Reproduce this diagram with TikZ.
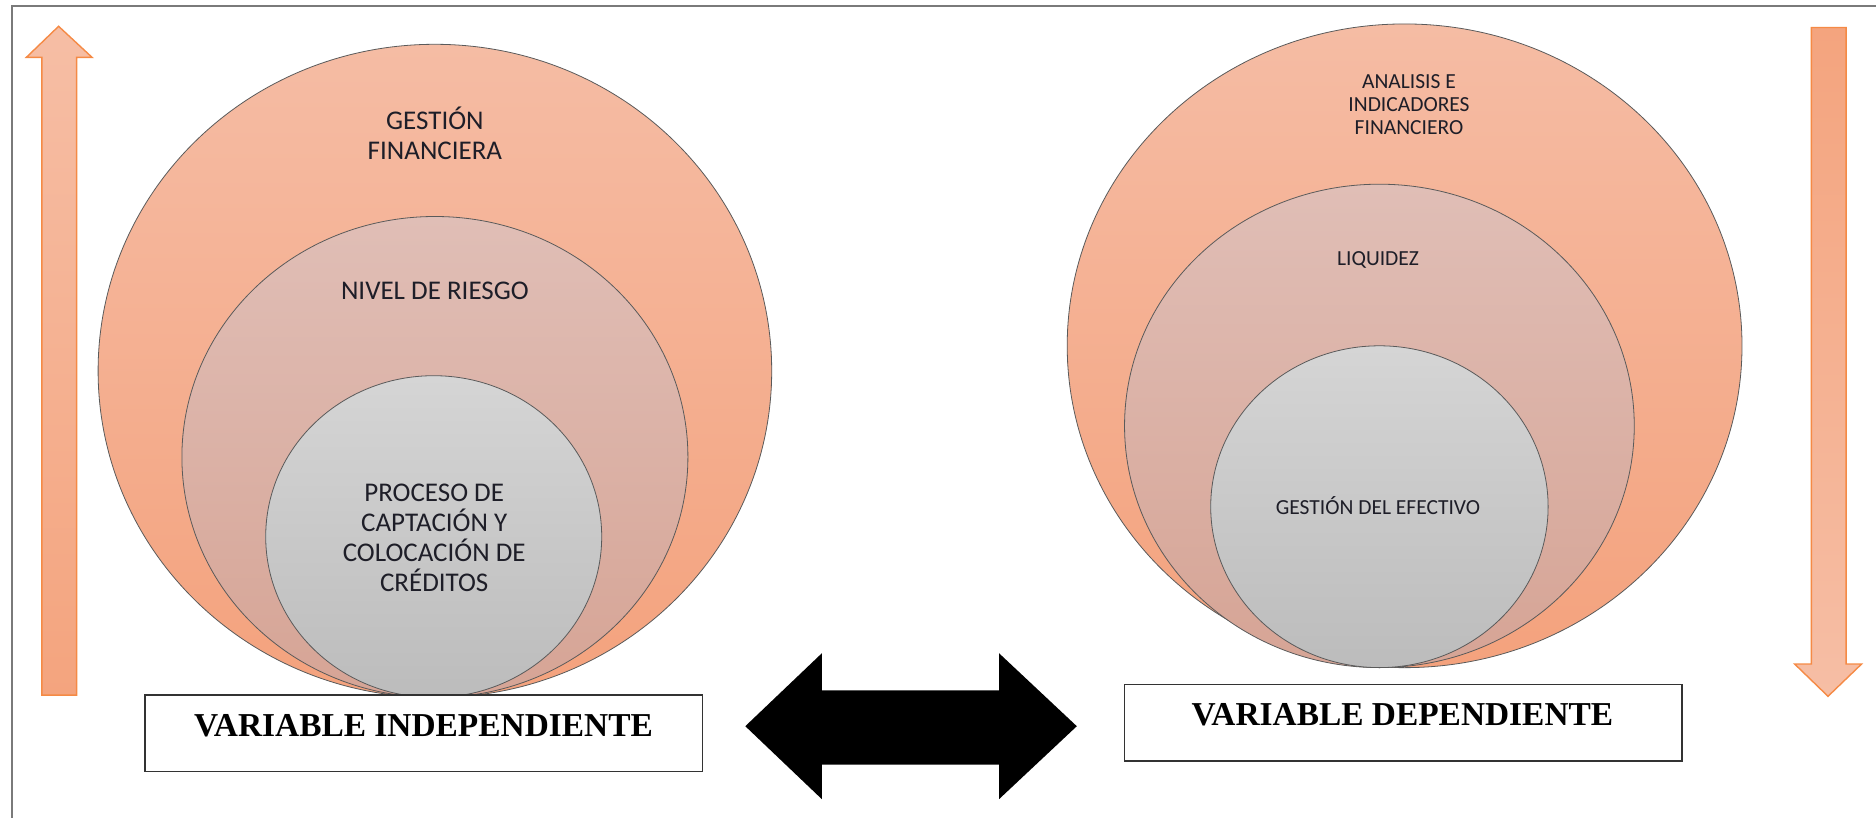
\documentclass[tikz,border=0pt]{standalone}
\usepackage{fontspec}
\setmainfont{Carlito}
\newfontfamily\tnr{Liberation Serif}
\usetikzlibrary{shapes.geometric}
\definecolor{salmonT}{HTML}{F5BCA4}
\definecolor{salmonB}{HTML}{F4A27D}
\definecolor{roseT}{HTML}{E0BEB6}
\definecolor{roseB}{HTML}{D6A495}
\definecolor{greyT}{HTML}{D5D5D5}
\definecolor{greyB}{HTML}{BCBCBC}
\definecolor{arrowLight}{HTML}{F6BEA5}
\definecolor{arrowDark}{HTML}{F4A47E}
\definecolor{arrowEdge}{HTML}{F58A45}
\definecolor{edgeGrey}{HTML}{5A5A5A}
\definecolor{frameGrey}{HTML}{7A7A7A}
\definecolor{txt}{HTML}{1E1E28}
\tikzset{
  disc/.style={ellipse, inner sep=0pt, draw=edgeGrey, line width=0.8pt},
  outerdisc/.style={disc, top color=salmonT, bottom color=salmonB},
  middisc/.style={disc, top color=roseT, bottom color=roseB},
  innerdisc/.style={disc, top color=greyT, bottom color=greyB},
  bigtxt/.style={text=txt, font=\fontsize{27}{30}\selectfont, align=center, inner sep=0pt},
  smalltxt/.style={text=txt, font=\fontsize{21.5}{23}\selectfont, align=center, inner sep=0pt},
  varbox/.style={draw=black!80, line width=1.5pt, fill=white},
  vartxt/.style={font=\tnr\bfseries\fontsize{33.4}{38}\selectfont, inner sep=0pt, anchor=base},
  blockarrow/.style={draw=arrowEdge, line width=1.4pt, line join=miter}
}
\begin{document}
\begin{tikzpicture}[x=1pt,y=-1pt]
\useasboundingbox (0,0) rectangle (1876,818);
% frame
\draw[frameGrey, line width=1.6pt] (12,818) -- (12,6) -- (1876,6);

% left vertical arrow (up)
\path[blockarrow, top color=arrowLight, bottom color=arrowDark]
  (41.9,695.1) -- (41.9,57.4) -- (26.3,57.4) -- (58.6,26.3) -- (92.1,57.4)
  -- (76.6,57.4) -- (76.6,695.1) -- cycle;
% right vertical arrow (down)
\path[blockarrow, top color=arrowDark, bottom color=arrowLight]
  (1811.4,27.5) -- (1846.1,27.5) -- (1846.1,664) -- (1861.6,664) -- (1828,696.3)
  -- (1794.6,664) -- (1811.4,664) -- cycle;

% left circles
\node[outerdisc, minimum width=673.6pt, minimum height=653.2pt] (Lout) at (434.9,370.9) {};
\node[middisc, minimum width=506pt, minimum height=481pt] (Lmid) at (434.9,457) {};
\node[innerdisc, minimum width=336pt, minimum height=321.8pt] (Lin) at (433.7,536.6) {};
\node[bigtxt] (Lt1) at (434.9,133.5) {GESTIÓN\\FINANCIERA};
\node[bigtxt] (Lt2) at (434.9,291) {NIVEL DE RIESGO};
\node[bigtxt] (Lt3) at (434.2,538) {PROCESO DE\\CAPTACIÓN Y\\COLOCACIÓN DE\\CRÉDITOS};

% right circles
\node[outerdisc, minimum width=674.8pt, minimum height=643.7pt] (Rout) at (1404.6,345.8) {};
\node[middisc, minimum width=509.7pt, minimum height=483.4pt] (Rmid) at (1379.4,425.9) {};
\node[innerdisc, minimum width=337.4pt, minimum height=321.8pt] (Rin) at (1379.4,506.7) {};
\node[smalltxt] (Rt1) at (1409,105) {ANALISIS E\\INDICADORES\\FINANCIERO};
\node[smalltxt] (Rt2) at (1378,260) {LIQUIDEZ};
\node[smalltxt] (Rt3) at (1378,506) {GESTIÓN DEL EFECTIVO};

% variable boxes
\path[varbox] (144.8,695.1) rectangle (702.3,771.7);
\node[vartxt] (Lvar) at (423.5,736.5) {VARIABLE INDEPENDIENTE};
\path[varbox] (1124.6,684.3) rectangle (1682.2,760.9);
\node[vartxt] (Rvar) at (1402.4,725.5) {VARIABLE DEPENDIENTE};

% double block arrow
\fill[black] (745.3,726.2) -- (821.9,653.2) -- (821.9,690.3) -- (999,690.3) -- (999,653.2)
  -- (1076.8,726.2) -- (999,799.2) -- (999,764.5) -- (821.9,764.5) -- (821.9,799.2) -- cycle;
\end{tikzpicture}
\end{document}
